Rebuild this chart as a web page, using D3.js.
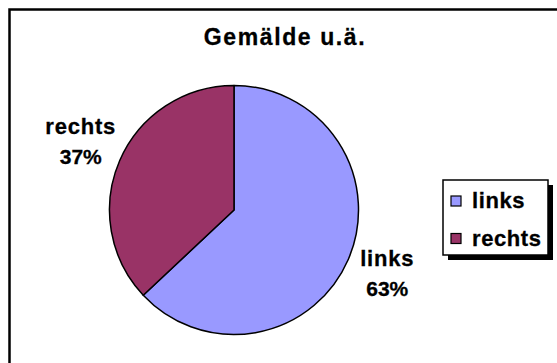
<!DOCTYPE html>
<html>
<head>
<meta charset="utf-8">
<script src="https://cdn.jsdelivr.net/npm/d3@7"></script>
<style>
  html, body { margin: 0; padding: 0; background: #fff; }
  svg { display: block; }
  text { font-family: "Liberation Sans", Arial, sans-serif; font-weight: bold; fill: #000; stroke: #000; stroke-width: 0.3px; }
</style>
</head>
<body>
<script>
const title = "Gemälde u.ä.";
const categories = ["links", "rechts"];
const values = [63, 37];
const colors = ["#9999FF", "#993366"];

const W = 557, H = 363;
const svg = d3.select("body").append("svg").attr("width", W).attr("height", H);

// outer chart frame (cropped at right/bottom)
svg.append("rect")
  .attr("x", 9.5).attr("y", 9.5)
  .attr("width", 560).attr("height", 370)
  .attr("fill", "#fff").attr("stroke", "#000").attr("stroke-width", 2.5);

// title
svg.append("text")
  .attr("x", 285).attr("y", 45)
  .attr("text-anchor", "middle")
  .attr("font-size", 23)
  .attr("letter-spacing", 1.6)
  .text(title);

const cx = 234, cy = 210, r = 124.5;
const data = categories.map((c, i) => ({ name: c, value: values[i], color: colors[i] }));
const pie = d3.pie().value(d => d.value).sort(null);
const arcs = pie(data);
const arc = d3.arc().innerRadius(0).outerRadius(r);
const labelArc = d3.arc().innerRadius(167).outerRadius(167);

const g = svg.append("g").attr("transform", `translate(${cx},${cy})`);
g.selectAll("path.slice").data(arcs).join("path")
  .attr("class", "slice")
  .attr("d", arc)
  .attr("fill", d => d.data.color)
  .attr("stroke", "#000").attr("stroke-width", 1.5)
  .attr("stroke-linejoin", "round");

const total = d3.sum(values);
const lbl = g.selectAll("g.lbl").data(arcs).join("g")
  .attr("class", "lbl")
  .attr("transform", d => `translate(${labelArc.centroid(d)})`);
lbl.append("text")
  .attr("text-anchor", "middle").attr("y", -10)
  .attr("font-size", 22).attr("letter-spacing", 0.8)
  .text(d => d.data.name);
lbl.append("text")
  .attr("text-anchor", "middle").attr("y", 20)
  .attr("font-size", 21).attr("letter-spacing", 0)
  .text(d => Math.round(d.data.value / total * 100) + "%");

// legend
const lx = 443, ly = 180, lw = 105, lh = 75;
const leg = svg.append("g");
leg.append("rect").attr("x", lx + 5).attr("y", ly + 5).attr("width", lw).attr("height", lh).attr("fill", "#000");
leg.append("rect").attr("x", lx).attr("y", ly).attr("width", lw).attr("height", lh)
  .attr("fill", "#fff").attr("stroke", "#000").attr("stroke-width", 1.5);
const items = leg.selectAll("g.item").data(data).join("g")
  .attr("class", "item")
  .attr("transform", (d, i) => `translate(${lx + 8},${ly + 16 + i * 37.5})`);
items.append("rect").attr("x", 0).attr("y", 0).attr("width", 10).attr("height", 10)
  .attr("fill", d => d.color).attr("stroke", "#000").attr("stroke-width", 1.2);
items.append("text").attr("x", 21).attr("y", 12)
  .attr("font-size", 22).attr("letter-spacing", 0.6)
  .text(d => d.name);
</script>
</body>
</html>
